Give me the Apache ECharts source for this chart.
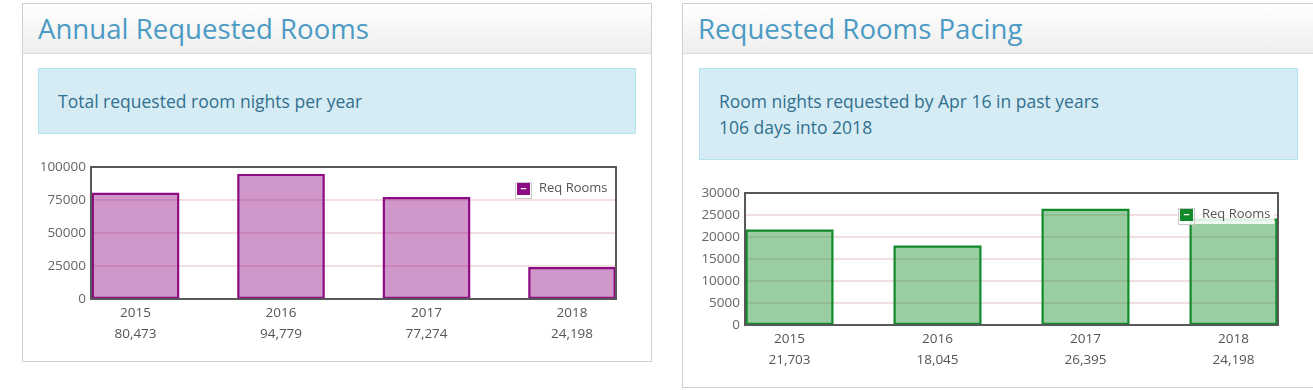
<!DOCTYPE html>
<html>
<head>
<meta charset="utf-8">
<script src="https://cdn.jsdelivr.net/npm/echarts@6/dist/echarts.min.js"></script>
<style>
  html, body { margin: 0; padding: 0; background: #fff; width: 1313px; height: 390px; overflow: hidden; font-family: "Open Sans", sans-serif; }
  .panel { position: absolute; border: 1px solid #cfcfcf; background: #fff; box-sizing: border-box; }
  .head { position: absolute; left: 0; right: 0; top: 0; height: 49px; background: linear-gradient(#ffffff, #efeeed); border-bottom: 1px solid #dcdcdc; }
  .head h2 { margin: 0; position: absolute; left: 15px; top: 6px; font-weight: normal; font-size: 27.6px; line-height: 36px; color: #4b9bc5; }
  .info { position: absolute; background: #d6ecf5; border: 1px solid #b1e4ee; color: #31708f; font-size: 17.5px; line-height: 26px; box-sizing: border-box; padding: 19px 19px; }
  .chart { position: absolute; }
</style>
</head>
<body>
<div class="panel" style="left:22px; top:3px; width:630px; height:359px;">
  <div class="head"><h2>Annual Requested Rooms</h2></div>
  <div class="info" style="left:15px; top:64px; width:598px; height:66px;">Total requested room nights per year</div>
</div>
<div class="panel" style="left:682px; top:3px; width:633px; height:385px;">
  <div class="head"><h2>Requested Rooms Pacing</h2></div>
  <div class="info" style="left:16px; top:64px; width:599px; height:92px;">Room nights requested by Apr 16 in past years<br>106 days into 2018</div>
</div>
<div id="c1" class="chart" style="left:23px; top:150px; width:627px; height:205px;"></div>
<div id="c2" class="chart" style="left:683px; top:175px; width:630px; height:210px;"></div>
<script>
const years = ['2015', '2016', '2017', '2018'];
const annualRooms = [80473, 94779, 77274, 24198];
const pacingRooms = [21703, 18045, 26395, 24198];
const annualTicks = { min: 0, max: 100000, interval: 25000 };
const pacingTicks = { min: 0, max: 30000, interval: 5000 };
const seriesName = 'Req Rooms';

const legendIcon = 'path://M0,0H12V12H0Z M3.5,5.5V6.8H8.5V5.5Z';

function makeOption(values, ticks, frame, bars, legendPos, colors) {
  const fmt = v => v.toLocaleString('en-US');
  return {
    animation: false,
    grid: [
      { left: frame.left, top: frame.top, width: frame.width, height: frame.height, show: true, borderColor: '#585858', borderWidth: 2, backgroundColor: 'transparent', z: 5 },
      { left: bars.left, top: frame.top, width: bars.width, height: frame.height }
    ],
    xAxis: [
      { gridIndex: 0, type: 'value', min: 0, max: 1, show: false },
      { gridIndex: 1, type: 'category', data: years, boundaryGap: false,
        axisLine: { show: false }, axisTick: { show: false },
        axisLabel: { margin: 4, color: '#555', fontSize: 13.5, fontFamily: 'Open Sans', lineHeight: 21,
          formatter: (v, i) => v + '\n' + fmt(values[i]) } }
    ],
    yAxis: [
      { gridIndex: 0, type: 'value', min: ticks.min, max: ticks.max, interval: ticks.interval,
        axisLine: { show: false }, axisTick: { show: false },
        axisLabel: { margin: 5, color: '#666', fontSize: 13.5, fontFamily: 'Open Sans', formatter: v => String(v) },
        splitLine: { show: true, showMinLine: false, showMaxLine: false, lineStyle: { color: '#f3dfdf', width: 2 } } },
      { gridIndex: 1, type: 'value', min: ticks.min, max: ticks.max, show: false, splitLine: { show: false } }
    ],
    legend: {
      show: true, left: legendPos.left, top: legendPos.top, orient: 'vertical',
      data: [{ name: seriesName, icon: legendIcon }],
      itemWidth: 13, itemHeight: 13, itemGap: 4,
      padding: [3, 4, 3, 3],
      backgroundColor: 'rgba(255,255,255,0.85)',
      textStyle: { color: '#555', fontSize: 13, fontFamily: 'Open Sans', padding: [0, 0, 0, 4] },
      itemStyle: { color: colors.border, borderWidth: 0 },
      selectedMode: false, z: 10
    },
    graphic: [{ type: 'rect', z: 11, silent: true,
      shape: { x: legendPos.left + 1.5, y: legendPos.top + 3.5, width: 16, height: 16 },
      style: { fill: 'none', stroke: '#c8c8c8', lineWidth: 1 } }],
    series: [{
      name: seriesName, type: 'bar', xAxisIndex: 1, yAxisIndex: 1,
      data: values, barWidth: bars.barWidth, clip: false, z: 3,
      itemStyle: { color: colors.fill, borderColor: colors.border, borderWidth: 2.2 }
    }]
  };
}

const c1 = echarts.init(document.getElementById('c1'), null, { renderer: 'canvas' });
c1.setOption(makeOption(annualRooms, annualTicks,
  { left: 68, top: 17, width: 525, height: 132 },
  { left: 112.5, width: 436.5, barWidth: 87.5 },
  { left: 491, top: 29 },
  { fill: 'rgba(151,24,140,0.45)', border: '#8e0c81' }));

const c2 = echarts.init(document.getElementById('c2'), null, { renderer: 'canvas' });
c2.setOption(makeOption(pacingRooms, pacingTicks,
  { left: 62, top: 18, width: 533, height: 132 },
  { left: 106.5, width: 444, barWidth: 88 },
  { left: 494, top: 30 },
  { fill: 'rgba(38,150,58,0.47)', border: '#128a2b' }));
</script>
</body>
</html>
